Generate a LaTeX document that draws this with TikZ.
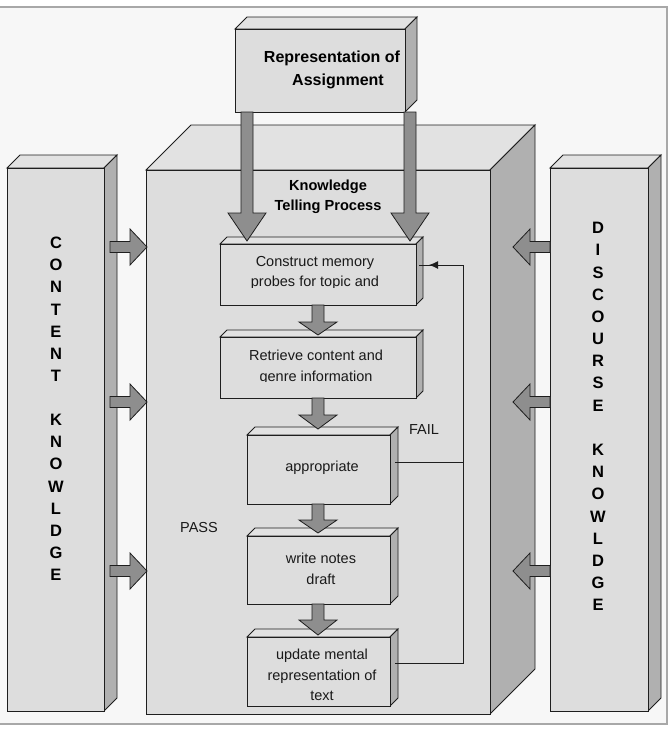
\documentclass[tikz,border=0pt]{standalone}
\usepackage{fontspec}
\setmainfont{Liberation Sans}
\usetikzlibrary{arrows.meta,calc}
\definecolor{bgc}{HTML}{F7F7F7}
\definecolor{framec}{HTML}{A8A8A8}
\definecolor{frontc}{HTML}{DDDDDD}
\definecolor{topc}{HTML}{E2E2E2}
\definecolor{sidec}{HTML}{B0B0B0}
\definecolor{blkc}{HTML}{8E8E8E}
\definecolor{edgec}{HTML}{1E1E1E}
\newcommand\cuboid[6]{% name, x1, y1, x2, y2, depth
  \filldraw[facedraw, fill=topc] ({#2},{#3}) -- ({#2+#6},{#3-#6}) -- ({#4+#6},{#3-#6}) -- ({#4},{#3}) -- cycle;
  \filldraw[facedraw, fill=sidec] ({#4},{#3}) -- ({#4+#6},{#3-#6}) -- ({#4+#6},{#5-#6}) -- ({#4},{#5}) -- cycle;
  \node[frontface, minimum width={#4pt-#2pt}, minimum height={#5pt-#3pt}, anchor=north west] (#1) at ({#2},{#3}) {};
}
\newcommand\blkdown[6]{% x, ytop, ytip, shaft half, head half, head length
  \filldraw[blk] ({#1-#4},{#2}) -- ({#1-#4},{#3-#6}) -- ({#1-#5},{#3-#6}) -- ({#1},{#3}) -- ({#1+#5},{#3-#6}) -- ({#1+#4},{#3-#6}) -- ({#1+#4},{#2}) -- cycle;
}
\newcommand\blkhor[6]{% y, xstart, xtip, shaft half, head half, head length (signed)
  \filldraw[blk] ({#2},{#1-#4}) -- ({#3-(#6)},{#1-#4}) -- ({#3-(#6)},{#1-#5}) -- ({#3},{#1}) -- ({#3-(#6)},{#1+#5}) -- ({#3-(#6)},{#1+#4}) -- ({#2},{#1+#4}) -- cycle;
}
\begin{document}
\begin{tikzpicture}[x=1pt,y=-1pt,
  facedraw/.style={draw=edgec, line width=0.9pt, line join=miter},
  frontface/.style={draw=edgec, fill=frontc, line width=0.9pt, inner sep=0pt, outer sep=0pt},
  blk/.style={draw=edgec, fill=blkc, line width=0.8pt, line join=miter},
  titlef/.style={font=\fontsize{16}{23}\selectfont\bfseries, text=black, inner sep=0pt},
  ktpf/.style={font=\fontsize{14.6}{20.5}\selectfont\bfseries, align=center, inner sep=0pt},
  flowf/.style={font=\fontsize{14.5}{20.5}\selectfont, align=center, inner sep=0pt, text=black!90},
  letterf/.style={font=\fontsize{16.5}{18}\selectfont\bfseries, inner sep=0pt},
  fb/.style={draw=edgec, line width=0.9pt}
]
\useasboundingbox (0,0) rectangle (669,732);
\fill[white] (0,0) rectangle (669,732);
\fill[bgc] (0,7) rectangle (667,724);
\draw[framec, line width=1.3pt] (0,7) -- (667,7) -- (667,724) -- (0,724);

% big boxes
\cuboid{main}{146}{170}{490}{714}{45}
\cuboid{content}{7}{168}{104}{711}{13}
\cuboid{discourse}{550}{168}{648}{711}{13}
\cuboid{assign}{235}{29}{405}{112}{12}

% flow boxes
\cuboid{b1}{220}{244}{416}{305}{7}
\cuboid{b2}{220}{337}{416}{398}{7}
\cuboid{b3}{247}{435}{390}{504}{8}
\cuboid{b4}{247}{536}{390}{604}{8}
\cuboid{b5}{247}{637}{390}{706}{8}

% big down arrows from assignment
\blkdown{247}{112}{241}{6}{19}{28}
\blkdown{410}{112}{241}{6}{19}{28}

% small arrows between flow boxes
\blkdown{318}{305}{335}{6}{19}{13}
\blkdown{318}{398}{429}{6}{19}{14}
\blkdown{318}{504}{533}{6}{19}{13}
\blkdown{318}{604}{635}{6}{19}{15}

% side arrows
\blkhor{247}{110}{147}{5.5}{18}{17}
\blkhor{402}{110}{147}{5.5}{18}{17}
\blkhor{571}{110}{147}{5.5}{18}{17}
\blkhor{247}{550}{513}{5.5}{18}{-17}
\blkhor{402}{550}{513}{5.5}{18}{-17}
\blkhor{571}{550}{513}{5.5}{18}{-17}

% feedback loop
\coordinate (b1in) at (419,265);
\coordinate (b3out) at (395,462);
\coordinate (b5out) at (395,663);
\coordinate (c3) at (463,462);
\coordinate (c5) at (463,663);
\coordinate (ctop) at (463,265);
\coordinate (tip) at (429,265);
\draw[fb] (b3out) -- (c3);
\draw[fb] (b5out) -- (c5) -- (ctop) -- (b1in);
\draw[fb, -{Latex[length=9pt,width=8pt]}] (ctop) -- (tip);

% texts
\node[titlef] (t1) at (332,58) {Representation of};
\node[titlef] (t2) at (338,81) {Assignment};
\node[ktpf] (ktp) at (328,197) {Knowledge\\Telling Process};

\begin{scope}
\clip (220,244) rectangle (416,287);
\node[flowf] (b1t) at (315,273) {Construct memory\\probes for topic and};
\end{scope}
\begin{scope}
\clip (220,337) rectangle (416,381);
\node[flowf] (b2t) at (316,367) {Retrieve content and\\genre information};
\end{scope}
\node[flowf] (b3t) at (322,468) {appropriate};
\node[flowf] (b4t) at (321,569) {write notes\\draft};
\node[flowf] (b5t) at (322,675) {update mental\\representation of\\text};
\node[flowf] (fail) at (424,430) {FAIL};
\node[flowf] (pass) at (199,528) {PASS};

% vertical letters
\foreach \ch [count=\i from 0] in {C,O,N,T,E,N,T,{},K,N,O,W,L,D,G,E}
  \node[letterf] (cl\i) at (56,{243+22.13*\i}) {\ch};
\foreach \ch [count=\i from 0] in {D,I,S,C,O,U,R,S,E,{},K,N,O,W,L,D,G,E}
  \node[letterf] (dl\i) at (598,{228+22.18*\i}) {\ch};
\end{tikzpicture}
\end{document}
